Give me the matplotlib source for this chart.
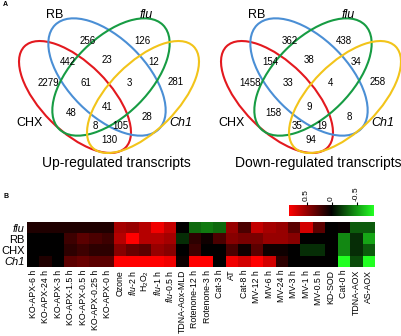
import numpy as np
import matplotlib
matplotlib.use('Agg')
import matplotlib.pyplot as plt
from matplotlib.patches import Ellipse
from matplotlib.colors import LinearSegmentedColormap

plt.rcParams['font.family'] = ['Liberation Sans', 'DejaVu Sans']
plt.rcParams['mathtext.fontset'] = 'custom'
plt.rcParams['mathtext.rm'] = 'Liberation Sans'
plt.rcParams['mathtext.it'] = 'Liberation Sans:italic'

# ---- data: Venn counts (same region order for both diagrams) ----
regions = ['RB', 'flu', 'CHX&RB', 'RB&flu', 'flu&Ch1', 'CHX', 'CHX&RB&flu',
           'RB&flu&Ch1', 'Ch1', 'all', 'CHX&flu', 'RB&Ch1', 'CHX&flu&Ch1',
           'CHX&RB&Ch1', 'CHX&Ch1']
up_counts = [256, 126, 442, 23, 12, 2279, 61, 3, 281, 41, 48, 28, 8, 105, 130]
down_counts = [362, 438, 154, 38, 34, 1458, 33, 4, 258, 9, 158, 8, 35, 19, 94]
set_names = ['CHX', 'RB', 'flu', 'Ch1']
italic_names = ['flu', 'Ch1']

# ---- data: heatmap ----
rows = ['flu', 'RB', 'CHX', 'Ch1']
conditions = ['KO-APX-6 h', 'KO-APX-24 h', 'KO-APX-3 h', 'KO-APX-1.5 h', 'KO-APX-0.5 h',
              'KO-APX-0.25 h', 'KO-APX-0 h', 'Ozone', r'$\mathit{flu}$-2 h', r'H$_2$O$_2$',
              r'$\mathit{flu}$-1 h', r'$\mathit{flu}$-0.5 h', 'TDNA-Aox-MLD', 'Rotenone-12 h',
              'Rotenone-3 h', 'Cat-3 h', 'AT', 'Cat-8 h', 'MV-12 h', 'MV-6 h', 'MV-24 h',
              'MV-3 h', 'MV-1 h', 'MV-0.5 h', 'KD-SOD', 'Cat-0 h', 'TDNA-AOX', 'AS-AOX']
flu_vals = [0.1, 0.1, 0.1, 0.1, 0.1, 0.1, 0.1, 0.55, 0.5, 0.6, 0.8, 0.65, 0.0, -0.35,
            -0.4, -0.35, 0.5, 0.25, 0.65, 0.55, 0.5, 0.3, 0.7, 0.3, 0.0, 0.02, -0.3, -0.3]
rb_vals = [0.0, 0.0, 0.0, 0.2, 0.3, 0.25, 0.2, 0.6, 0.9, 0.6, 0.6, 0.55, -0.15, 0.15,
           0.05, 0.25, 0.45, 0.4, 0.4, 0.5, 0.5, 0.45, 0.0, 0.0, 0.0, -0.45, -0.15, -0.55]
chx_vals = [0.0, 0.0, 0.0, 0.15, 0.2, 0.15, 0.15, 0.45, 0.35, 0.3, 0.5, 0.45, 0.0, 0.2,
            0.0, 0.0, 0.25, 0.05, 0.3, 0.05, 0.05, 0.0, -0.15, -0.15, 0.0, -0.45, -0.15, -0.3]
ch1_vals = [0.0, 0.1, 0.0, 0.3, 0.35, 0.3, 0.3, 0.85, 0.9, 0.9, 0.9, 0.8, 0.05, 0.9,
            0.9, 0.0, 0.8, 0.7, 0.9, 0.7, 0.15, 0.0, 0.0, 0.0, 0.0, -0.95, -0.25, -0.9]
cbar_ticks = [0.5, 0, -0.5]

# ---- layout (pixels, venn-local) ----
ell = {'CHX': ((75, 97), 143, 68, 45, '#e3191f'),
       'RB': ((107, 77), 147, 77, 45, '#4b8fd5'),
       'flu': ((111, 77), 147, 77, -45, '#179c43'),
       'Ch1': ((143, 97), 143, 68, -45, '#f2c41a')}
name_pos = {'RB': (55, 15), 'flu': (146, 15), 'CHX': (30, 123), 'Ch1': (181, 123)}
reg_pos = [(88, 41), (142, 41), (68, 62), (107, 60), (154, 62), (48, 83), (86, 83),
           (129, 83), (176, 82), (107, 107), (71, 113), (147, 117), (95, 126),
           (120, 126), (109, 140)]

fig = plt.figure(figsize=(4.01, 3.36), dpi=100)
bg = fig.add_axes([0, 0, 1, 1])
bg.set_xlim(0, 401)
bg.set_ylim(336, 0)
bg.axis('off')

def venn(ox, counts, title):
    for s in set_names:
        (cx, cy), w, h, ang, col = ell[s]
        bg.add_patch(Ellipse((cx + ox, cy), w, h, angle=ang, fill=False,
                             edgecolor=col, lw=1.5))
    for s in set_names:
        x, y = name_pos[s]
        bg.text(x + ox, y, s, fontsize=9, ha='center', va='center',
                fontstyle='italic' if s in italic_names else 'normal')
    for (x, y), c in zip(reg_pos, counts):
        bg.text(x + ox, y, str(c), fontsize=7, ha='center', va='center')
    bg.text(116 + ox, 163, title, fontsize=10, ha='center', va='center')

venn(0, up_counts, 'Up-regulated transcripts')
venn(202, down_counts, 'Down-regulated transcripts')
bg.text(3, 5, 'A', fontsize=5, fontweight='bold', ha='left', va='center')
bg.text(3, 197, 'B', fontsize=5, fontweight='bold', ha='left', va='center')

# ---- heatmap ----
cmap = LinearSegmentedColormap.from_list('gkr', ['#22ff22', '#000000', '#ff0000'])
data = np.array([flu_vals, rb_vals, chx_vals, ch1_vals])
ax = fig.add_axes([27.3 / 401, 1 - 267 / 336, 347.2 / 401, 45 / 336])
im = ax.imshow(data, cmap=cmap, vmin=-0.85, vmax=0.85, aspect='auto',
               interpolation='nearest')
ax.set_yticks(range(len(rows)))
ylabs = ax.set_yticklabels(rows, fontsize=8)
for t, r in zip(ylabs, rows):
    if r in italic_names:
        t.set_fontstyle('italic')
ax.set_xticks(range(len(conditions)))
ax.set_xticklabels(conditions, rotation=90, fontsize=6.3)
ax.tick_params(length=0, pad=2)
for sp in ax.spines.values():
    sp.set_visible(False)

cax = fig.add_axes([289 / 401, 1 - 216 / 336, 85 / 401, 11 / 336])
cb = fig.colorbar(im, cax=cax, orientation='horizontal')
cb.outline.set_visible(False)
cax.invert_xaxis()
cax.xaxis.set_ticks_position('top')
cb.set_ticks(cbar_ticks)
cb.set_ticklabels(['0.5', '0', '-0.5'])
cax.tick_params(labelsize=6, rotation=90, length=2, pad=1)

fig.savefig('out.png', dpi=100)
